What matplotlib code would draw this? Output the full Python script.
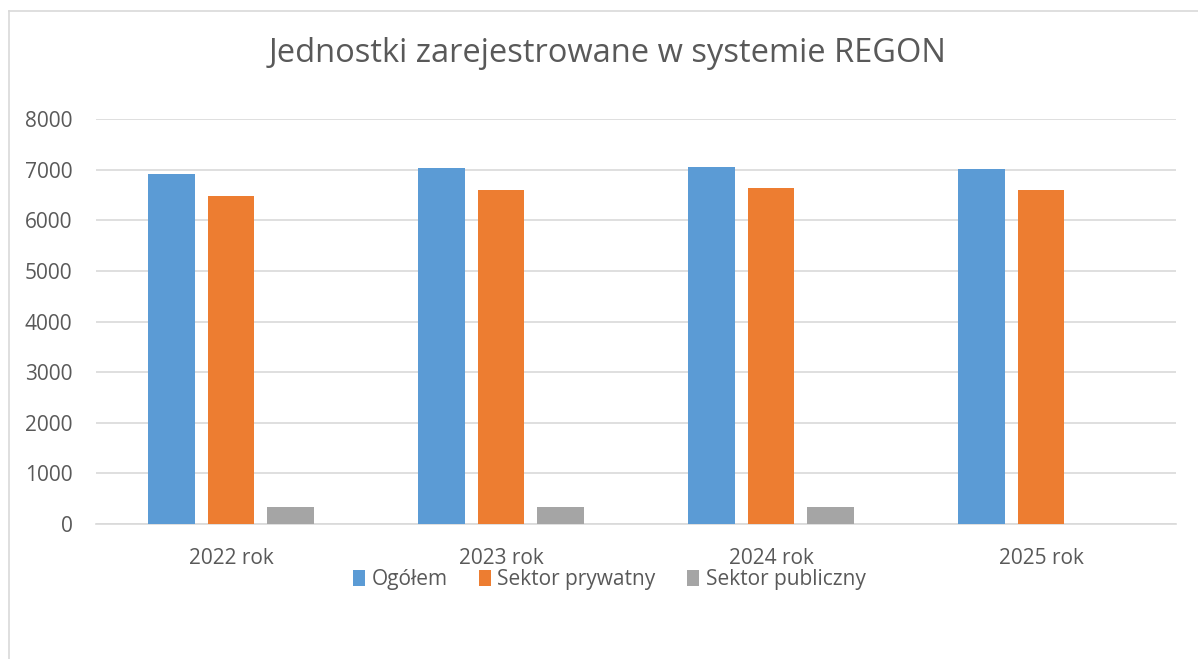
import numpy as np
import matplotlib.pyplot as plt
from matplotlib.lines import Line2D

# Data
categories = ["2022 rok", "2023 rok", "2024 rok", "2025 rok"]
series_names = ["Ogółem", "Sektor prywatny", "Sektor publiczny"]
ogolem = [6920, 7040, 7060, 7010]
prywatny = [6485, 6605, 6645, 6600]
publiczny = [330, 330, 330, 0]

colors = ["#5b9bd5", "#ed7d31", "#a5a5a5"]
text_color = "#595959"

plt.rcParams["font.family"] = ["Open Sans", "DejaVu Sans"]

W, H = 1198, 659
fig = plt.figure(figsize=(W / 100, H / 100), dpi=100)

# plot area: x 96..1176 px, y 119..524 px
ax = fig.add_axes([96 / W, 1 - 524 / H, 1080 / W, 405 / H])

x = np.arange(len(categories))
width = 0.174
step = 0.222
for i, (vals, name) in enumerate(zip([ogolem, prywatny, publiczny], series_names)):
    ax.bar(x + (i - 1) * step, vals, width, color=colors[i], label=name, zorder=3)

ax.set_xlim(-0.5, len(categories) - 0.5)
ax.set_ylim(0, 8000)
ax.set_yticks(range(0, 8001, 1000))
ax.yaxis.grid(True, color="#d9d9d9", linewidth=1.2, zorder=0)
ax.set_xticks(x)
ax.set_xticklabels(categories)
ax.tick_params(axis="both", length=0, labelsize=15, colors=text_color)
ax.tick_params(axis="x", pad=17)
ax.tick_params(axis="y", pad=17)
for s in ["top", "right", "left"]:
    ax.spines[s].set_visible(False)
ax.spines["bottom"].set_color("#d9d9d9")
ax.spines["bottom"].set_linewidth(1.2)

fig.text(608 / W, 1 - 53 / H, "Jednostki zarejestrowane w systemie REGON",
         ha="center", va="center", fontsize=23.5, color=text_color)

ax.legend(loc="center", bbox_to_anchor=(609 / W, 1 - 580 / H),
          bbox_transform=fig.transFigure, ncol=3, frameon=False,
          fontsize=15, labelcolor=text_color, handlelength=0.6,
          handleheight=0.8, handletextpad=0.3, columnspacing=1.5)

# chart border (top and left edges visible)
fig.add_artist(Line2D([9 / W, 1], [1 - 11 / H, 1 - 11 / H], color="#d9d9d9", linewidth=1.2))
fig.add_artist(Line2D([9 / W, 9 / W], [0, 1 - 11 / H], color="#d9d9d9", linewidth=1.2))

plt.savefig("out.png", dpi=100)
